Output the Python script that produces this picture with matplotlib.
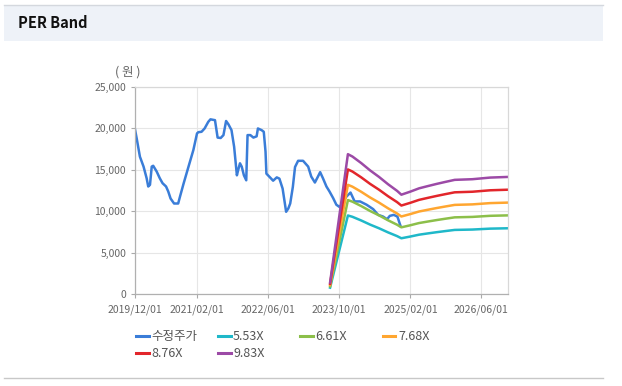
import pandas as pd
import matplotlib.pyplot as plt
from matplotlib.patches import Rectangle
from matplotlib.lines import Line2D
from matplotlib.ticker import FuncFormatter

plt.rcParams['font.family'] = ['Noto Sans CJK KR', 'DejaVu Sans']

# adjusted share price (수정주가)
price_dates = [
    '2019-12-01', '2019-12-16', '2020-01-07', '2020-02-01', '2020-02-22', '2020-03-04',
    '2020-03-16', '2020-03-28', '2020-04-07', '2020-05-01', '2020-05-22', '2020-06-10',
    '2020-07-04', '2020-07-19', '2020-08-04', '2020-08-28', '2020-09-25', '2020-10-07',
    '2020-11-01', '2020-12-04', '2021-01-07', '2021-02-01', '2021-02-10', '2021-03-04',
    '2021-03-25', '2021-04-19', '2021-05-04', '2021-06-04', '2021-06-22', '2021-07-13',
    '2021-08-01', '2021-08-19', '2021-09-04', '2021-09-25', '2021-10-13', '2021-11-01',
    '2021-11-10', '2021-11-22', '2021-12-04', '2021-12-19', '2022-01-04', '2022-01-13',
    '2022-02-01', '2022-02-22', '2022-03-16', '2022-03-25', '2022-04-19', '2022-05-04',
    '2022-05-16', '2022-05-22', '2022-06-13', '2022-07-07', '2022-08-01', '2022-08-19',
    '2022-09-10', '2022-10-04', '2022-10-19', '2022-11-01', '2022-11-19', '2022-12-04',
    '2022-12-25', '2023-01-28', '2023-03-04', '2023-03-25', '2023-04-19', '2023-05-10',
    '2023-05-25', '2023-06-13', '2023-07-07', '2023-07-28', '2023-08-22', '2023-09-13',
    '2023-10-07', '2023-10-28', '2023-11-22', '2023-12-19', '2024-01-16', '2024-02-22',
    '2024-04-07', '2024-05-22', '2024-06-25', '2024-07-28', '2024-08-25', '2024-09-13',
    '2024-10-10', '2024-11-04', '2024-11-25',
]
price_values = [
    20200, 18800, 16600, 15400, 14000, 13000,
    13200, 15400, 15500, 14800, 14000, 13400,
    13000, 12400, 11550, 10950, 10950, 11750,
    13350, 15350, 17400, 19400, 19550, 19600,
    20000, 20800, 21100, 21000, 18900, 18850,
    19200, 20900, 20500, 19800, 17800, 14350,
    15000, 15800, 15400, 14350, 13750, 19200,
    19200, 18900, 19050, 20000, 19800, 19600,
    17200, 14550, 14150, 13700, 14100, 13950,
    12750, 9950, 10350, 10950, 12950, 15350,
    16100, 16100, 15400, 14200, 13480, 14200,
    14730, 14000, 13000, 12400, 11600, 10800,
    10500, 11200, 11800, 12270, 11200, 11200,
    10800, 10270, 9580, 9380, 9060, 9460,
    9580, 9370, 8250,
]

# EPS behind the PER bands
eps_dates = [
    '2023-08-01', '2023-12-01', '2024-01-01', '2024-03-01', '2024-05-01', '2024-07-01',
    '2024-09-01', '2024-11-01', '2024-12-01', '2025-02-01', '2025-04-01', '2025-06-01',
    '2025-08-01', '2025-10-01', '2025-12-01', '2026-04-01', '2026-08-01', '2026-12-01',
]
eps_values = [
    145, 1719, 1690, 1610, 1520, 1440,
    1350, 1270, 1222, 1260, 1300, 1328,
    1355, 1380, 1404, 1412, 1432, 1440,
]

multiples = [5.53, 6.61, 7.68, 8.76, 9.83]
band_labels = ['5.53X', '6.61X', '7.68X', '8.76X', '9.83X']
band_colors = ['#1fb8c9', '#8cbf4a', '#ffa630', '#e2262b', '#9c4aa6']
price_color = '#3a7dd8'

x_tick_labels = ['2019/12/01', '2021/02/01', '2022/06/01', '2023/10/01', '2025/02/01', '2026/06/01']
y_ticks = [0, 5000, 10000, 15000, 20000, 25000]


def main():
    fig = plt.figure(figsize=(6.22, 3.86), dpi=100)
    W, H = 622, 386

    # header band
    fig.patches.append(Rectangle((4 / W, 1 - 41 / H), 599 / W, 36 / H, transform=fig.transFigure,
                                 facecolor='#eef2f8', edgecolor='none', zorder=0))
    fig.add_artist(Line2D([4 / W, 603 / W], [1 - 5 / H, 1 - 5 / H], color='#d4d8de', lw=1))
    fig.add_artist(Line2D([4 / W, 603 / W], [1 - 378 / H, 1 - 378 / H], color='#c8c8c8', lw=1))
    fig.text(18 / W, 1 - 23 / H, 'PER Band', fontsize=10.5, fontweight='bold', color='#111111',
             ha='left', va='center')

    ax = fig.add_axes([134.5 / W, 1 - 294.3 / H, 373.5 / W, 207.3 / H])

    px = pd.to_datetime(price_dates)
    ex = pd.to_datetime(eps_dates)
    ax.plot(px, price_values, color=price_color, lw=1.8, label='수정주가')
    for m, lab, c in zip(multiples, band_labels, band_colors):
        ax.plot(ex, [m * e for e in eps_values], color=c, lw=1.8, label=lab)

    ax.set_xlim(pd.Timestamp('2019-12-01'), pd.Timestamp('2026-12-01'))
    ax.set_ylim(0, 25000)
    ax.set_yticks(y_ticks)
    ax.yaxis.set_major_formatter(FuncFormatter(lambda v, p: f'{v:,.0f}'))
    ax.set_xticks(pd.to_datetime(x_tick_labels, format='%Y/%m/%d'))
    ax.set_xticklabels(x_tick_labels)

    ax.tick_params(axis='both', labelsize=7.5, labelcolor='#666666', color='#aaaaaa', length=3, width=0.8)
    ax.tick_params(axis='x', pad=4)
    ax.tick_params(axis='y', pad=3)
    ax.grid(True, color='#e6e6e6', lw=0.8)
    ax.set_axisbelow(True)
    for side in ['left', 'bottom']:
        ax.spines[side].set_color('#b0b0b0')
        ax.spines[side].set_linewidth(0.9)
    for side in ['top', 'right']:
        ax.spines[side].set_color('#d8d8d8')
        ax.spines[side].set_linewidth(0.9)

    fig.text(128 / W, 1 - 72 / H, '( 원 )', fontsize=9, color='#666666', ha='center', va='center')

    # legend laid out as 4 evenly spaced columns, row-major
    handles, labels = ax.get_legend_handles_labels()
    columns = [[0, 4], [1, 5], [2], [3]]
    col_x = [136, 218, 300, 383]
    for xs, idx in zip(col_x, columns):
        leg = fig.legend([handles[i] for i in idx], [labels[i] for i in idx],
                         loc='upper left', bbox_to_anchor=(xs / W, 1 - 330 / H),
                         frameon=False, fontsize=9, handlelength=1.0, handletextpad=0.2,
                         borderpad=0, borderaxespad=0, labelspacing=0.35, labelcolor='#555555')
        for line in leg.get_lines():
            line.set_linewidth(2.2)

    fig.savefig('out.png', dpi=100, facecolor='white')


if __name__ == "__main__":
    main()
